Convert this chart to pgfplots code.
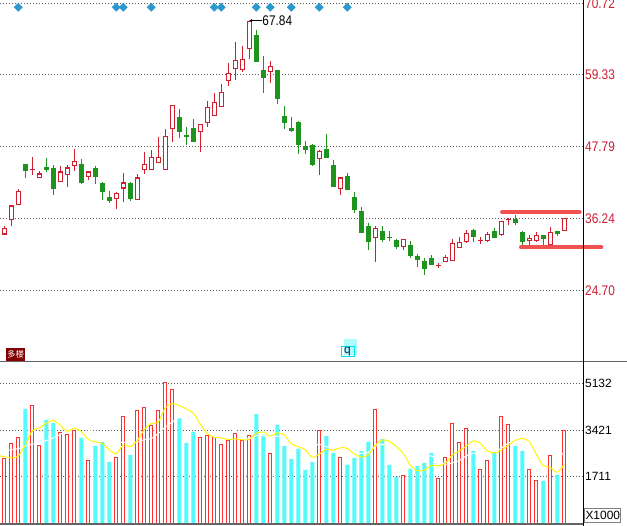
\documentclass[border=0pt]{standalone}
\usepackage{fontspec}
\setmainfont{Liberation Sans}
\newfontfamily\cjk{Noto Sans CJK SC}
\usepackage{graphicx}
\usepackage{pgfplots}
\usepackage{pgfplotstable}
\pgfplotsset{compat=1.18}
\usetikzlibrary{arrows.meta}

\definecolor{upred}{RGB}{208,32,48}
\definecolor{dngreen}{RGB}{30,148,30}
\definecolor{volred}{RGB}{255,48,48}
\definecolor{volcyan}{RGB}{85,250,250}
\definecolor{labred}{RGB}{205,30,50}
\definecolor{gridc}{RGB}{90,90,90}
\definecolor{diam}{RGB}{45,152,205}
\definecolor{markred}{RGB}{240,82,82}
\definecolor{maroonbox}{RGB}{128,0,0}
\definecolor{ma5}{RGB}{255,245,0}
\definecolor{sepgray}{RGB}{100,100,100}
\definecolor{qlight}{RGB}{175,250,250}
\definecolor{qcyan}{RGB}{0,225,240}

% up (red, hollow) candles: index open high low close
\pgfplotstableread{
i o h l c
0 33.67 35.11 33.67 34.79
1 36.02 38.32 35.06 38.32
2 38.32 41.04 38.32 40.72
4 43.93 46.07 43.24 43.93
5 42.65 43.77 42.65 43.45
8 42.01 44.63 42.01 43.77
9 43.13 44.79 41.31 44.41
10 44.57 47.35 43.88 45.38
12 42.81 43.77 42.43 43.77
16 39.28 40.56 37.78 40.40
17 41.04 43.50 38.91 42.01
19 39.12 43.34 39.12 42.81
20 43.93 46.87 43.40 44.90
21 43.93 47.19 43.93 46.02
22 45.05 49.28 45.05 46.02
23 44.04 50.51 44.04 49.39
24 50.51 54.36 48.53 54.36
28 50.03 51.31 46.93 51.31
29 51.47 55.05 50.94 54.04
30 52.70 56.34 52.70 54.84
31 54.14 57.78 54.14 56.44
32 58.31 61.15 57.51 59.49
33 60.24 64.52 58.48 61.58
34 60.08 63.82 59.76 61.74
35 63.45 67.84 61.84 67.84
38 59.76 61.47 57.99 60.61
45 45.80 47.25 43.24 47.03
48 40.99 42.81 40.03 42.81
53 33.13 35.00 29.28 34.79
57 31.72 32.89 31.18 32.89
62 28.67 29.10 28.35 28.67
63 29.21 30.33 29.21 30.12
64 29.37 32.89 29.37 32.25
65 31.56 33.21 31.56 32.41
66 32.47 34.39 32.36 33.85
68 32.68 33.21 32.20 32.68
69 32.63 34.07 32.52 33.69
71 33.59 35.83 33.43 35.83
72 36.04 36.26 35.19 36.04
75 32.68 33.59 31.99 33.05
76 32.68 34.02 32.41 33.53
78 31.99 34.82 31.99 34.02
80 34.18 36.26 34.18 36.26
}\upT

% down (green, filled) candles
\pgfplotstableread{
i o h l c
3 44.95 44.95 42.75 43.88
6 44.41 45.91 43.66 44.04
7 44.31 44.79 39.97 40.99
11 44.95 45.75 41.79 41.95
13 44.31 44.63 41.79 42.92
14 41.90 42.06 39.23 40.51
15 39.76 40.72 38.74 39.07
18 41.90 42.06 39.07 39.33
25 52.49 53.77 49.17 50.13
26 49.60 50.88 48.00 49.33
27 50.72 52.17 48.53 48.53
36 65.64 66.44 61.36 61.36
37 60.03 62.27 56.39 58.80
39 60.03 60.03 54.63 55.43
40 52.65 54.25 50.62 51.58
41 50.72 52.49 50.13 50.29
42 51.68 51.84 46.61 48.05
43 47.83 48.64 46.61 47.25
44 48.00 48.16 44.68 44.84
46 47.35 49.76 45.96 45.96
47 44.79 45.59 41.31 41.31
49 43.02 43.50 40.78 40.88
50 39.65 40.46 37.14 37.62
51 37.41 38.05 33.93 33.93
52 35.00 35.48 31.21 32.49
54 34.20 35.00 32.49 32.86
55 33.22 34.20 32.65 33.14
56 32.81 32.92 31.37 31.69
58 31.99 32.57 29.90 30.22
59 30.22 30.54 28.51 29.58
60 29.42 29.85 27.23 28.09
61 29.85 30.33 28.83 28.83
67 34.39 34.55 32.52 33.21
70 34.23 34.66 33.16 33.16
73 36.10 36.79 35.24 35.56
74 34.12 34.23 31.99 32.41
77 33.53 33.53 31.99 32.89
79 34.23 34.23 33.48 33.69
}\dnT

% volume of up days (x1000)
\pgfplotstableread{
i v
0 2358
1 2907
2 3162
4 4332
5 2859
8 3309
9 3236
10 3418
12 2285
16 2431
17 3894
19 4113
20 4223
21 3565
22 4113
23 5137
24 4881
28 3126
29 3199
30 3126
31 2870
32 3016
33 3272
34 3016
35 3199
38 2541
45 3418
48 2395
53 4150
57 1737
62 1663
63 2431
64 3638
65 2943
66 3455
68 1956
69 2285
71 3894
72 3601
75 1956
76 1590
78 2504
80 3382
}\upV

% volume of down days (x1000)
\pgfplotstableread{
i v
3 4186
6 3784
7 3674
11 3126
13 2833
14 2980
15 2248
18 2504
25 3857
26 2943
27 3345
36 4003
37 3236
39 3601
40 2833
41 2358
42 2724
43 1956
44 2248
46 3199
47 2578
49 2139
50 2395
51 2651
52 2980
54 3089
55 2139
56 1700
58 1993
59 2102
60 2212
61 2578
67 2651
70 2578
73 2833
74 2651
77 1554
79 1773
}\dnV

\begin{document}
\begin{tikzpicture}[x=1bp,y=1bp]
\path[use as bounding box] (0bp,0bp) rectangle (627bp,526bp);
\fill[white] (0bp,0bp) rectangle (627bp,526bp);

% ---------- price panel ----------
\begin{axis}[at={(0bp,164bp)}, anchor=south west,
  width=583.3bp, height=362bp, scale only axis,
  xmin=-0.6143, xmax=82.714, ymin=13.24, ymax=71.249,
  axis line style={draw=none}, xtick=\empty,
  ytick={24.70,36.24,47.79,59.33,70.72},
  yticklabels={\scalebox{0.85}[1]{24.70},\scalebox{0.85}[1]{36.24},\scalebox{0.85}[1]{47.79},\scalebox{0.85}[1]{59.33},\scalebox{0.85}[1]{70.72}},
  yticklabel pos=right, major tick length=0pt,
  ymajorgrids, major grid style={gridc, line width=0.8bp, dash pattern=on 1bp off 2bp},
  yticklabel style={anchor=west, inner sep=0pt, xshift=1.7bp, font=\fontsize{14}{14}\selectfont, text=labred},
  clip=false]
% wicks
\addplot[draw=none, forget plot, error bars/.cd, y dir=plus, y explicit, error mark=none,
  error bar style={draw=upred, line width=1bp}]
  table[x=i, y=l, y error plus expr={\thisrow{h}-\thisrow{l}}] {\upT};
\addplot[draw=none, forget plot, error bars/.cd, y dir=plus, y explicit, error mark=none,
  error bar style={draw=dngreen, line width=1bp}]
  table[x=i, y=l, y error plus expr={\thisrow{h}-\thisrow{l}}] {\dnT};
% bodies
\addplot[draw=none, forget plot, error bars/.cd, y dir=plus, y explicit, error mark=none,
  error bar style={draw=upred, line width=5bp}]
  table[x=i, y=o, y error plus expr={max(\thisrow{c}-\thisrow{o},0.17)}] {\upT};
\addplot[draw=none, forget plot, error bars/.cd, y dir=plus, y explicit, error mark=none,
  error bar style={draw=white, line width=3bp}]
  table[x=i, y expr={\thisrow{o}+0.17}, y error plus expr={max(\thisrow{c}-\thisrow{o}-0.34,0)}] {\upT};
\addplot[draw=none, forget plot, error bars/.cd, y dir=plus, y explicit, error mark=none,
  error bar style={draw=dngreen, line width=5bp}]
  table[x=i, y=c, y error plus expr={max(\thisrow{o}-\thisrow{c},0.17)}] {\dnT};
% signal diamonds
\addplot[only marks, mark=square*, mark size=2.9bp, mark options={rotate=45, fill=diam, draw=diam}]
  coordinates {(2,70.08) (16,70.08) (17,70.08) (21,70.08) (30,70.08) (31,70.08) (36,70.08) (38,70.08) (41,70.08) (45,70.08) (49,70.08)};
% range lines
\addplot[markred, line width=3.8bp, line cap=round] coordinates {(71.1,37.24) (82.2,37.24)};
\addplot[markred, line width=3.8bp, line cap=round] coordinates {(73.8,31.62) (85.3,31.62)};
% max label
\draw[{Stealth[length=3bp,width=3bp]}-, black, line width=0.8bp] (axis cs:35,67.95) -- (axis cs:36.75,67.95);
\node[anchor=west, inner sep=0pt, font=\fontsize{14}{14}\selectfont] at (axis cs:36.85,67.95) {\scalebox{0.85}[1]{67.84}};
\end{axis}

% ---------- volume panel ----------
\begin{axis}[at={(0bp,2.5bp)}, anchor=south west,
  width=583.3bp, height=161.5bp, scale only axis,
  xmin=-0.6143, xmax=82.714, ymin=0, ymax=5904,
  axis line style={draw=none}, xtick=\empty,
  ytick={1711,3421,5132}, yticklabels={1711,3421,5132},
  yticklabel pos=right, major tick length=0pt,
  ymajorgrids, major grid style={gridc, line width=0.8bp, dash pattern=on 1bp off 2bp},
  yticklabel style={anchor=west, inner sep=0pt, xshift=1.7bp, font=\fontsize{12}{12}\selectfont, text=black},
  clip=false]
\addplot[ybar, bar width=4bp, bar shift=0pt, fill=volcyan, draw=none] table[x=i, y=v] {\dnV};
\addplot[ybar, bar width=3bp, bar shift=0pt, fill=white, draw=volred, line width=1bp] table[x=i, y=v] {\upV};
% 10-day average (white)
\addplot[white, line width=1bp, smooth] coordinates {
(0,2620) (1,2700) (2,2740) (3,2830) (4,2900) (5,2960) (6,3030) (7,3130) (8,3260) (9,3381)
(10,3487) (11,3509) (12,3421) (13,3286) (14,3150) (15,3089) (16,2954) (17,2976) (18,2896) (19,2983)
(20,3064) (21,3108) (22,3290) (23,3521) (24,3711) (25,3872) (26,3923) (27,3868) (28,3930) (29,3839)
(30,3729) (31,3660) (32,3550) (33,3364) (34,3177) (35,3111) (36,3217) (37,3206) (38,3148) (39,3188)
(40,3159) (41,3108) (42,3078) (43,2947) (44,2870) (45,2892) (46,2811) (47,2746) (48,2731) (49,2585)
(50,2541) (51,2570) (52,2596) (53,2815) (54,2899) (55,2772) (56,2622) (57,2538) (58,2497) (59,2494)
(60,2475) (61,2468) (62,2336) (63,2164) (64,2219) (65,2300) (66,2475) (67,2567) (68,2563) (69,2581)
(70,2618) (71,2749) (72,2943) (73,2983) (74,2885) (75,2786) (76,2600) (77,2490) (78,2545) (79,2491) (80,2572)};
% 5-day average (yellow)
\addplot[ma5, line width=1bp, smooth] coordinates {
(-0.6,2470) (0,2443) (1,2394) (2,2467) (3,2870) (4,3389) (5,3489) (6,3665) (7,3767) (8,3592) (9,3372)
(10,3484) (11,3353) (12,3075) (13,2980) (14,2928) (15,2694) (16,2555) (17,2877) (18,2811) (19,3038)
(20,3433) (21,3660) (22,3704) (23,4230) (24,4384) (25,4311) (26,4186) (27,4033) (28,3630) (29,3294)
(30,3148) (31,3133) (32,3067) (33,3097) (34,3060) (35,3075) (36,3301) (37,3345) (38,3199) (39,3316)
(40,3243) (41,2914) (42,2811) (43,2694) (44,2424) (45,2541) (46,2709) (47,2680) (48,2768) (49,2746)
(50,2541) (51,2432) (52,2512) (53,2863) (54,3053) (55,3002) (56,2812) (57,2563) (58,2132) (59,1934)
(60,1949) (61,2124) (62,2110) (63,2197) (64,2504) (65,2651) (66,2826) (67,3024) (68,2929) (69,2658)
(70,2585) (71,2673) (72,2863) (73,3038) (74,3111) (75,2987) (76,2526) (77,2116) (78,2051) (79,1875) (80,2160)};
\end{axis}

% frame lines
\draw[sepgray, line width=1bp] (0bp,164bp) -- (627bp,164bp);
\draw[sepgray, line width=2bp] (0bp,2.3bp) -- (583.3bp,2.3bp);
\draw[black, line width=1.3bp] (583.3bp,0bp) -- (583.3bp,526bp);

% small labels
\node[draw=gray, line width=0.8bp, inner xsep=0.8bp, inner ysep=0pt, minimum height=13.4bp,
  anchor=south west, font=\fontsize{12}{12}\selectfont] at (584.3bp,3.3bp) {X1000};
\node[fill=maroonbox, text=white, inner xsep=0.5bp, inner ysep=0pt, minimum height=13bp,
  minimum width=19bp, anchor=south west, font=\cjk\fontsize{8.5}{9}\selectfont] at (6bp,165bp) {多楼};
\fill[qlight] (344bp,171bp) rectangle (357bp,187bp);
\draw[qcyan, line width=1bp] (341bp,169.5bp) rectangle (354bp,179bp);
\node[font=\fontsize{12}{12}\selectfont, text={rgb,255:red,20;green,30;blue,80}, inner sep=0pt] at (347.5bp,174bp) {q};
\end{tikzpicture}
\end{document}
